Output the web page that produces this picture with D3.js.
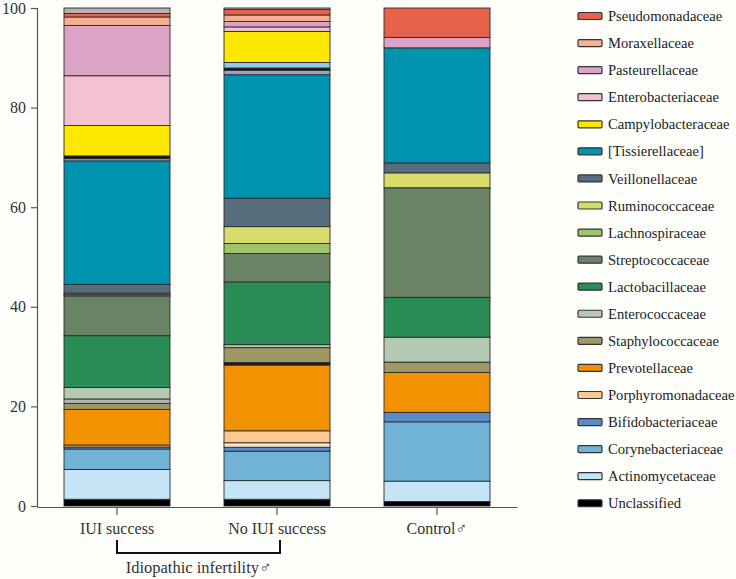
<!DOCTYPE html>
<html><head><meta charset="utf-8">
<script src="https://cdn.jsdelivr.net/npm/d3@7"></script>
<style>
html,body{margin:0;padding:0;background:#fefefb;}
svg{display:block;font-family:"Liberation Serif","DejaVu Serif",serif;}
</style></head>
<body><svg id="chart" width="736" height="579"></svg>
<script>
// Groups (x categories)
const groups = ["IUI success", "No IUI success", "Control\u2642"];
const bracketLabel = "Idiopathic infertility\u2642";
const yTicks = [0, 20, 40, 60, 80, 100];

// Stacking order bottom -> top (minor* = unlabelled small fractions)
const stackKeys = ["Unclassified","Actinomycetaceae","Corynebacteriaceae","Bifidobacteriaceae","minor1",
  "Porphyromonadaceae","Prevotellaceae","minor2","Staphylococcaceae","minor3","Enterococcaceae",
  "Lactobacillaceae","Streptococcaceae","Lachnospiraceae","Ruminococcaceae","Veillonellaceae",
  "[Tissierellaceae]","minor4","minor5","minor6","Campylobacteraceae","Enterobacteriaceae",
  "Pasteurellaceae","Moraxellaceae","Pseudomonadaceae","minor7"];

// Relative abundance (%) per group, aligned with stackKeys
const iuiSuccess   = [1.35,6.0,4.1,0.4,0,0.4,7.15,0,1.2,0.9,2.3,10.4,8.0,0.25,0.3,1.75,24.8,0.45,0.55,0,6.1,10.0,10.1,1.7,0.7,1.1];
const noIuiSuccess = [1.35,3.75,5.9,0.8,0.9,2.4,13.2,0.5,3.0,0,0.6,12.6,5.7,2.0,3.4,5.7,24.8,0.9,0.45,1.1,6.25,0.9,1.1,1.3,1.1,0.3];
const control      = [0.9,4.1,11.9,1.9,0,0,8.0,0,2.1,0,5.0,8.0,22.0,0,3.0,2.0,23.1,0,0,0,0,0,2.1,0,5.9,0];

// Legend (top -> bottom)
const legendNames = ["Pseudomonadaceae","Moraxellaceae","Pasteurellaceae","Enterobacteriaceae",
  "Campylobacteraceae","[Tissierellaceae]","Veillonellaceae","Ruminococcaceae","Lachnospiraceae",
  "Streptococcaceae","Lactobacillaceae","Enterococcaceae","Staphylococcaceae","Prevotellaceae",
  "Porphyromonadaceae","Bifidobacteriaceae","Corynebacteriaceae","Actinomycetaceae","Unclassified"];

const colors = {
  "Pseudomonadaceae":"#e8614a","Moraxellaceae":"#f5b093","Pasteurellaceae":"#dba4c7",
  "Enterobacteriaceae":"#f2c2d1","Campylobacteraceae":"#ffe800","[Tissierellaceae]":"#0093b0",
  "Veillonellaceae":"#566d7b","Ruminococcaceae":"#d7dc6b","Lachnospiraceae":"#a0c46b",
  "Streptococcaceae":"#6a8266","Lactobacillaceae":"#2a8c55","Enterococcaceae":"#b6cab3",
  "Staphylococcaceae":"#9d9864","Prevotellaceae":"#f39200","Porphyromonadaceae":"#fdc98e",
  "Bifidobacteriaceae":"#5b8bc4","Corynebacteriaceae":"#72b4d8","Actinomycetaceae":"#c5e5f6",
  "Unclassified":"#000000",
  "minor1":"#fde5c9","minor2":"#1a1a1a","minor3":"#b3b3b3","minor4":"#91a5cf",
  "minor5":"#111111","minor6":"#8fcbe8","minor7":"#b3b3b3"
};

const seriesByGroup = [iuiSuccess, noIuiSuccess, control];
const table = groups.map((g, i) => {
  const row = {group: g};
  stackKeys.forEach((k, j) => row[k] = seriesByGroup[i][j]);
  return row;
});

const svg = d3.select("#chart");
const x = d3.scaleBand().domain(groups).range([37, 517]).paddingInner(0.3375).paddingOuter(0.16875);
const y = d3.scaleLinear().domain([0, 100]).range([506, 8]);

const stacked = d3.stack().keys(stackKeys)(table);

const layers = svg.append("g").selectAll("g").data(stacked).join("g")
  .attr("fill", d => colors[d.key]);
layers.selectAll("rect")
  .data(d => d.filter(p => p[1] - p[0] > 0))
  .join("rect")
  .attr("x", d => x(d.data.group))
  .attr("width", x.bandwidth())
  .attr("y", d => y(d[1]))
  .attr("height", d => y(d[0]) - y(d[1]))
  .attr("stroke", "#2b2b2b")
  .attr("stroke-width", 0.9);

// Y axis
const yAxis = svg.append("g").attr("transform", "translate(37,0)")
  .call(d3.axisLeft(y).tickValues(yTicks).tickSize(6).tickPadding(5));
yAxis.select(".domain").attr("stroke", "#555").attr("stroke-width", 1.2);
yAxis.selectAll(".tick line").attr("stroke", "#555").attr("stroke-width", 1.2);
yAxis.selectAll("text").attr("font-size", 16).attr("fill", "#333")
  .attr("font-family", "Liberation Serif, serif");

// X axis
const xAxis = svg.append("g").attr("transform", "translate(0,507)")
  .call(d3.axisBottom(x).tickSize(8).tickPadding(8).tickSizeOuter(0));
xAxis.select(".domain").attr("stroke", "#555").attr("stroke-width", 1.2);
xAxis.selectAll(".tick line").attr("stroke", "#555").attr("stroke-width", 1.2);
xAxis.selectAll("text").attr("font-size", 16).attr("fill", "#333")
  .attr("font-family", "Liberation Serif, serif");

// Bracket
const bx1 = x(groups[0]) + x.bandwidth() / 2;
const bx2 = x(groups[1]) + x.bandwidth() / 2 + 3;
svg.append("path")
  .attr("d", `M${bx1},540 V553 H${bx2} V540`)
  .attr("fill", "none").attr("stroke", "#111").attr("stroke-width", 2);
svg.append("text").attr("x", (bx1 + bx2) / 2).attr("y", 573)
  .attr("text-anchor", "middle").attr("font-size", 16.5).attr("fill", "#333")
  .text(bracketLabel);

// Legend
const leg = svg.append("g").selectAll("g").data(legendNames).join("g")
  .attr("transform", (d, i) => `translate(578,${16 + i * 27.07})`);
leg.append("rect").attr("x", 0).attr("y", -3.5).attr("width", 24).attr("height", 7)
  .attr("rx", 1).attr("fill", d => colors[d]).attr("stroke", "#333").attr("stroke-width", 1.2);
leg.append("text").attr("x", 30).attr("y", 0).attr("dy", "0.35em")
  .attr("font-size", 14.6).attr("fill", "#222").text(d => d);
</script>
</body></html>
